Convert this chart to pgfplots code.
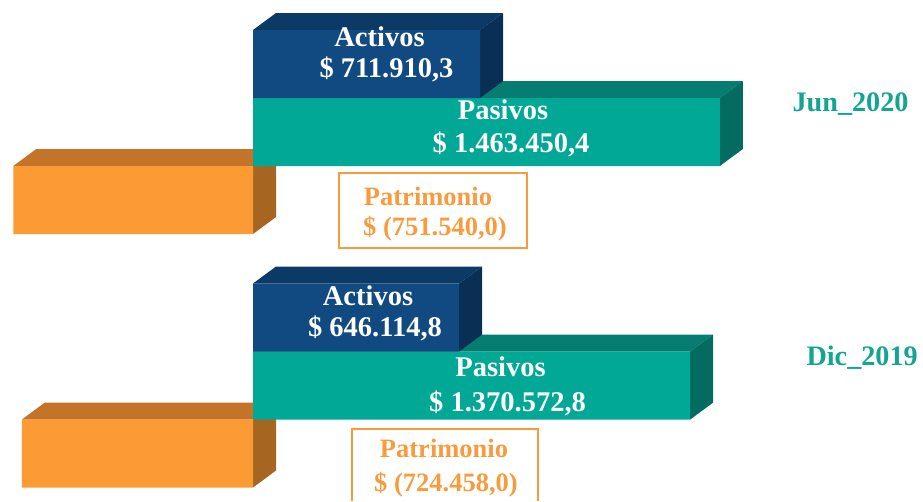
\documentclass[border=0pt]{standalone}
\usepackage{pgfplots}
\pgfplotsset{compat=1.18}
\usepackage{fontspec}
\setmainfont{Liberation Serif}
\definecolor{actF}{HTML}{114A80}
\definecolor{actT}{HTML}{0C3A66}
\definecolor{actS}{HTML}{0A2F55}
\definecolor{pasF}{HTML}{02A896}
\definecolor{pasT}{HTML}{067D70}
\definecolor{pasS}{HTML}{036B60}
\definecolor{patF}{HTML}{FC9A33}
\definecolor{patT}{HTML}{C37428}
\definecolor{patS}{HTML}{A66521}
\definecolor{patTxt}{HTML}{F99A3C}
\definecolor{grpTxt}{HTML}{14A592}
\begin{document}
\begin{tikzpicture}
\begin{axis}[name=ax, at={(0,0)}, anchor=south west,
  scale only axis, width=923pt, height=501pt, hide axis,
  xmin=-793103, xmax=2100313, ymin=0, ymax=501, y dir=reverse,
  clip=false]
% ---- Patrimonio
\addplot[fill=patT, draw=none] coordinates {(-751540,166) (0,166) (72100,149) (-679440,149)} --cycle;
\addplot[fill=patS, draw=none] coordinates {(0,166) (72100,149) (72100,217) (0,234)} --cycle;
\addplot[fill=patT, draw=none] coordinates {(-724458,419.5) (0,419.5) (72100,402.5) (-652358,402.5)} --cycle;
\addplot[fill=patS, draw=none] coordinates {(0,419.5) (72100,402.5) (72100,470.5) (0,487.5)} --cycle;
\addplot[xbar, bar width=68, bar shift=0pt, fill=patF, draw=none] coordinates {(-751540,200) (-724458,453.5)};
% ---- Pasivos
\addplot[fill=pasT, draw=none] coordinates {(0,98) (1463450.4,98) (1535550.4,81) (72100,81)} --cycle;
\addplot[fill=pasS, draw=none] coordinates {(1463450.4,98) (1535550.4,81) (1535550.4,149) (1463450.4,166)} --cycle;
\addplot[fill=pasT, draw=none] coordinates {(0,351.5) (1370572.8,351.5) (1442672.8,334.5) (72100,334.5)} --cycle;
\addplot[fill=pasS, draw=none] coordinates {(1370572.8,351.5) (1442672.8,334.5) (1442672.8,402.5) (1370572.8,419.5)} --cycle;
\addplot[xbar, bar width=68, bar shift=0pt, fill=pasF, draw=none] coordinates {(1463450.4,132) (1370572.8,385.5)};
% ---- Activos
\addplot[fill=actT, draw=none] coordinates {(0,30) (711910.3,30) (784010.3,13) (72100,13)} --cycle;
\addplot[fill=actS, draw=none] coordinates {(711910.3,30) (784010.3,13) (784010.3,81) (711910.3,98)} --cycle;
\addplot[fill=actT, draw=none] coordinates {(0,283.5) (646114.8,283.5) (718214.8,266.5) (72100,266.5)} --cycle;
\addplot[fill=actS, draw=none] coordinates {(646114.8,283.5) (718214.8,266.5) (718214.8,334.5) (646114.8,351.5)} --cycle;
\addplot[xbar, bar width=68, bar shift=0pt, fill=actF, draw=none] coordinates {(711910.3,64) (646114.8,317.5)};
\end{axis}
\pgfresetboundingbox
\useasboundingbox (ax.south west) rectangle (ax.north east);
\begin{scope}[shift={(ax.north west)}, x=1pt, y=-1pt]
\tikzset{wt/.style={white, anchor=base, font=\fontsize{28.5}{30}\selectfont\bfseries},
         ot/.style={patTxt, anchor=base, font=\fontsize{26.5}{30}\selectfont\bfseries},
         gt/.style={grpTxt, anchor=base west, font=\fontsize{28.2}{30}\selectfont\bfseries}}
% Jun 2020
\node[wt] at (379.5,46.5) {Activos};
\node[wt] at (386.5,78) {\$ 711.910,3};
\node[wt] at (503,120) {Pasivos};
\node[wt] at (511,152.5) {\$ 1.463.450,4};
\draw[patTxt, line width=1.3pt] (339,173) rectangle (527,248);
\node[ot] at (428,205.5) {Patrimonio};
\node[ot] at (435,236) {\$ (751.540,0)};
\node[gt] at (789,111.5) {Jun\_2020};
% Dic 2019
\node[wt] at (368,305) {Activos};
\node[wt] at (375,336.5) {\$ 646.114,8};
\node[wt] at (500.5,376.5) {Pasivos};
\node[wt] at (507.5,411) {\$ 1.370.572,8};
\draw[patTxt, line width=1.3pt] (352,501) -- (352,429) -- (538,429) -- (538,501);
\node[ot] at (444,457.5) {Patrimonio};
\node[ot] at (446,491.5) {\$ (724.458,0)};
\node[gt] at (803,365) {Dic\_2019};
\end{scope}
\end{tikzpicture}
\end{document}
